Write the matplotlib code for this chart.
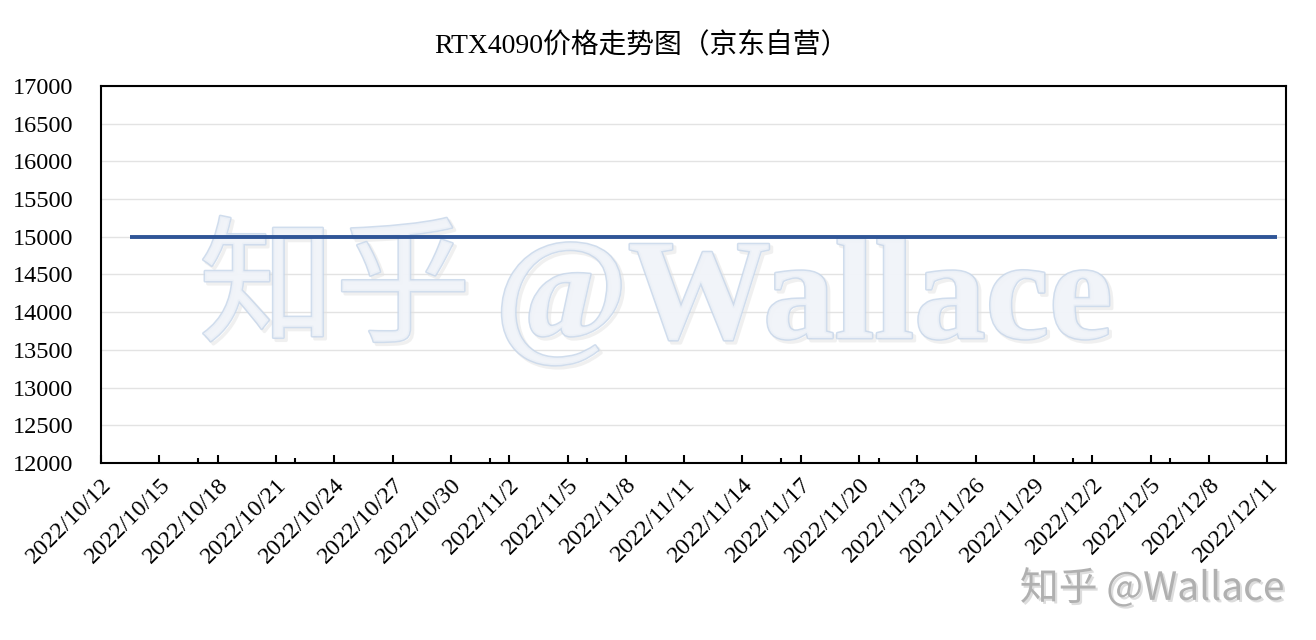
import matplotlib
matplotlib.use("Agg")
import matplotlib.pyplot as plt
import matplotlib.dates as mdates
import matplotlib.patheffects as pe
import pandas as pd

plt.rcParams['font.family'] = ['Liberation Serif', 'Noto Sans CJK SC']

title = "RTX4090价格走势图（京东自营）"
start_date = "2022-10-13"
end_date = "2022-12-11"
prices = [15000, 15000, 15000, 15000, 15000, 15000, 15000, 15000, 15000, 15000,
          15000, 15000, 15000, 15000, 15000, 15000, 15000, 15000, 15000, 15000,
          15000, 15000, 15000, 15000, 15000, 15000, 15000, 15000, 15000, 15000,
          15000, 15000, 15000, 15000, 15000, 15000, 15000, 15000, 15000, 15000,
          15000, 15000, 15000, 15000, 15000, 15000, 15000, 15000, 15000, 15000,
          15000, 15000, 15000, 15000, 15000, 15000, 15000, 15000, 15000, 15000]
y_ticks = [12000, 12500, 13000, 13500, 14000, 14500, 15000, 15500, 16000, 16500, 17000]

dates = pd.date_range(start_date, end_date, freq="D")
xpos = mdates.date2num(dates) + 0.5

fig = plt.figure(figsize=(13.16, 6.4), dpi=100)
ax = fig.add_axes([0.0768, 0.2766, 0.9002, 0.589])

ax.plot(xpos, prices, color="#2f5597", linewidth=2.8, zorder=5, solid_capstyle="butt")

ax.set_ylim(12000, 17000)
ax.set_yticks(y_ticks)
ax.set_yticklabels([str(v) for v in y_ticks])
x0 = mdates.date2num(pd.Timestamp("2022-10-12"))
x1 = mdates.date2num(pd.Timestamp("2022-12-12")) - 0.05
ax.set_xlim(x0, x1)
major = mdates.date2num(pd.date_range("2022-10-12", "2022-12-11", freq="3D"))
minor = mdates.date2num(pd.date_range("2022-10-17", "2022-12-11", freq="5D"))
ax.set_xticks(major)
ax.set_xticklabels([f"{d.year}/{d.month}/{d.day}" for d in mdates.num2date(major)],
                   rotation=45, ha="right", va="top", rotation_mode="anchor")
ax.set_xticks(minor, minor=True)
ax.tick_params(axis="x", which="major", direction="in", length=6, width=1.5, labelsize=17.5, pad=8)
ax.tick_params(axis="x", which="minor", direction="in", length=3.5, width=1.5)
ax.tick_params(axis="y", which="both", length=0, labelsize=17.5, pad=20)

for s in ax.spines.values():
    s.set_linewidth(1.5)
    s.set_color("black")

ax.grid(axis="y", color="#e3e3e3", linewidth=1.0, zorder=0)
ax.set_axisbelow(True)

# watermark (inside axes so that the line is drawn over it)
wm_effects = [pe.SimpleLineShadow(offset=(2, -2), shadow_color="#e2e2e2", alpha=0.5, linewidth=2.5),
              pe.Stroke(linewidth=2.2, foreground="#c8d7ea"), pe.Normal()]
ax.text(0.2546, 0.544, "知乎", fontsize=98, ha="center", va="center",
        color="#f1f4f9", alpha=0.85, zorder=3, transform=fig.transFigure,
        family=['Noto Sans CJK SC'], path_effects=wm_effects)
ax.text(0.376, 0.472, "@Wallace", fontsize=103, ha="left", va="baseline",
        color="#f1f4f9", alpha=0.85, zorder=3, weight="bold", transform=fig.transFigure,
        family=['Liberation Serif'], path_effects=wm_effects)

fig.text(0.487, 0.928, title, fontsize=20, ha="center", va="center")

fig.text(0.976, 0.08, "知乎 @Wallace", fontsize=28, ha="right", va="center",
         color="#b0b0b0", family=['Noto Sans CJK SC', 'DejaVu Sans'],
         path_effects=[pe.withSimplePatchShadow(offset=(1.5, -1.5), shadow_rgbFace="#dddddd", alpha=1)])

fig.savefig("out.png", dpi=100)
